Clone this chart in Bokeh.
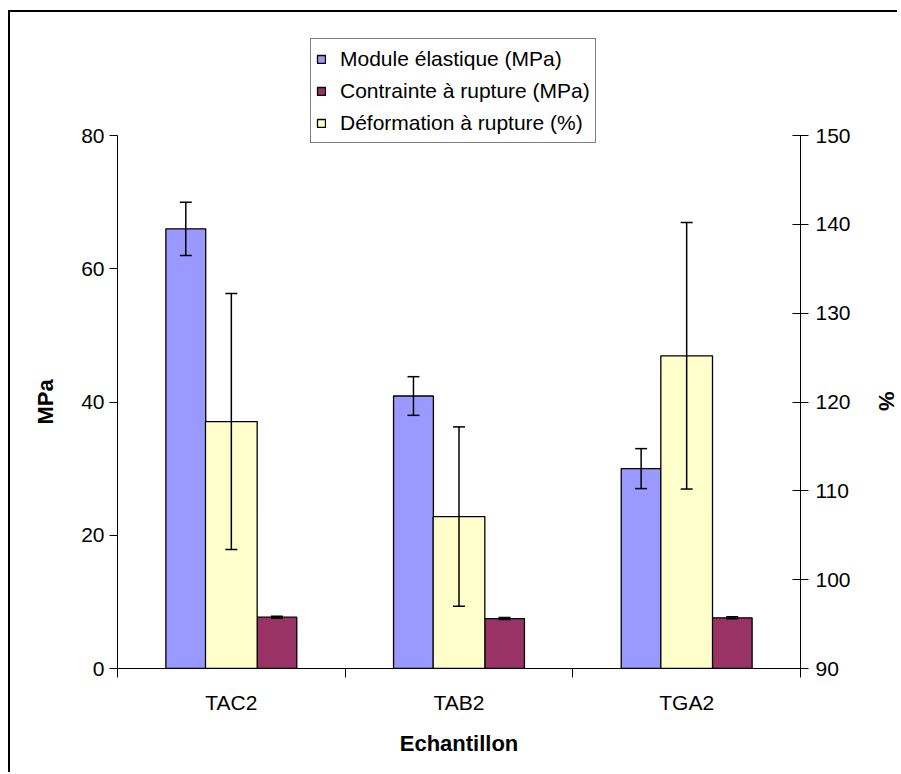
from bokeh.plotting import figure
from bokeh.models import (Range1d, LinearAxis, FixedTicker, Legend, LegendItem,
                          ColumnDataSource, Title)
from bokeh.embed import file_html
from bokeh.resources import INLINE

# ---------------- data ----------------
categories = ["TAC2", "TAB2", "TGA2"]
module = [66.0, 40.9, 30.0]          # MPa
module_err = [4.0, 2.9, 3.0]
contrainte = [7.7, 7.5, 7.6]         # MPa
contrainte_err = [0.15, 0.15, 0.15]
deformation = [117.8, 107.1, 125.2]  # %
deformation_err = [14.4, 10.1, 15.0]
left_ticks = [0, 20, 40, 60, 80]
right_ticks = [90, 100, 110, 120, 130, 140, 150]

FONT = "Liberation Sans"
W, H = 889, 762
TOP_BORDER = 18          # frame extends above the axes to host the legend
AXIS_PX = 533            # pixel height of the 0..80 axis
FRAME_PX = AXIS_PX + (123 - TOP_BORDER)
L0, L1 = left_ticks[0], left_ticks[-1]
R0, R1 = right_ticks[0], right_ticks[-1]
left_max = L0 + (L1 - L0) * FRAME_PX / AXIS_PX
right_max = R0 + (R1 - R0) * FRAME_PX / AXIS_PX

p = figure(width=W, height=H, output_backend="svg", toolbar_location=None,
           x_range=Range1d(0, len(categories)), y_range=Range1d(L0, left_max),
           min_border_left=107, min_border_right=96, min_border_top=TOP_BORDER,
           min_border_bottom=106)
p.styles = {"border-left": "2px solid black", "border-top": "2px solid black",
            "margin-left": "8px", "margin-top": "10px"}
p.extra_y_ranges = {"pct": Range1d(R0, right_max)}
p.xgrid.visible = False
p.ygrid.visible = False
p.outline_line_color = None
p.background_fill_color = "white"
p.border_fill_color = "white"

centers = [i + 0.5 for i in range(len(categories))]
off = 0.2
src = ColumnDataSource(dict(
    xb=[c - off for c in centers], xm=[c + off for c in centers], xy=centers,
    mod=module, con=contrainte, dfm=deformation,
    mod_lo=[v - e for v, e in zip(module, module_err)],
    mod_hi=[v + e for v, e in zip(module, module_err)],
    con_lo=[v - e for v, e in zip(contrainte, contrainte_err)],
    con_hi=[v + e for v, e in zip(contrainte, contrainte_err)],
    dfm_lo=[v - e for v, e in zip(deformation, deformation_err)],
    dfm_hi=[v + e for v, e in zip(deformation, deformation_err)],
))

cap = 6.0 / 228.7
LW = 1.3

def errbars(xcol, lo, hi, **kw):
    xs = src.data[xcol]
    p.segment(x0=xs, x1=xs, y0=src.data[lo], y1=src.data[hi],
              line_color="black", line_width=1.5, **kw)
    for col in (lo, hi):
        p.segment(x0=[x - cap for x in xs], x1=[x + cap for x in xs],
                  y0=src.data[col], y1=src.data[col],
                  line_color="black", line_width=1.5, **kw)

r_mod = p.vbar(x="xb", top="mod", bottom=0, width=0.175, source=src,
               fill_color="#9999FF", line_color="black", line_width=LW)
errbars("xb", "mod_lo", "mod_hi")
r_con = p.vbar(x="xm", top="con", bottom=0, width=0.175, source=src,
               fill_color="#993366", line_color="black", line_width=LW)
errbars("xm", "con_lo", "con_hi")
r_dfm = p.vbar(x="xy", top="dfm", bottom=R0, width=0.227, source=src,
               fill_color="#FFFFCC", line_color="black", line_width=LW,
               y_range_name="pct")
errbars("xy", "dfm_lo", "dfm_hi", y_range_name="pct")

# ---------------- axes ----------------
xa = p.xaxis[0]
xa.ticker = FixedTicker(ticks=centers, minor_ticks=list(range(len(categories) + 1)))
xa.major_label_overrides = {c: name for c, name in zip(centers, categories)}
xa.major_tick_out = 0
xa.major_tick_in = 0
xa.minor_tick_out = 9
xa.minor_tick_in = 0
xa.minor_tick_line_color = "black"
xa.axis_line_color = "black"
xa.major_label_standoff = 13
xa.major_label_text_font = FONT
xa.major_label_text_font_size = "21px"
xa.major_label_text_color = "black"
xa.axis_label = "Echantillon"
xa.axis_label_text_font = FONT
xa.axis_label_text_font_size = "22px"
xa.axis_label_text_font_style = "bold"
xa.axis_label_text_color = "black"
xa.axis_label_standoff = 14

ya = p.yaxis[0]
ya.ticker = FixedTicker(ticks=left_ticks)
ya.bounds = (L0, L1)
ya.minor_tick_line_color = None
ya.major_tick_out = 8
ya.major_tick_in = 0
ya.axis_line_color = "black"
ya.major_tick_line_color = "black"
ya.major_label_standoff = 5
ya.major_label_text_font = FONT
ya.major_label_text_font_size = "21px"
ya.major_label_text_color = "black"

ra = LinearAxis(y_range_name="pct", ticker=FixedTicker(ticks=right_ticks),
                bounds=(R0, R1))
ra.minor_tick_line_color = None
ra.major_tick_out = 8
ra.major_tick_in = 8
ra.axis_line_color = "black"
ra.major_tick_line_color = "black"
ra.major_label_standoff = 7
ra.major_label_text_font = FONT
ra.major_label_text_font_size = "21px"
ra.major_label_text_color = "black"
# blank spacer label: widens the axis panel so the "%" title sits further out
ra.axis_label = " "
ra.axis_label_text_font_size = "1px"
ra.axis_label_standoff = 15
p.add_layout(ra, "right")

# axis titles, centred on the 0..80 / 90..150 axis span (not on the taller frame)
p.add_layout(Title(text="MPa", align="left", vertical_align="middle",
                   offset=244, standoff=39, text_font=FONT,
                   text_font_size="22px", text_font_style="bold",
                   text_color="black"), "left")
p.add_layout(Title(text="%", align="left", vertical_align="middle",
                   offset=361, standoff=0, text_font=FONT,
                   text_font_size="22px", text_font_style="bold",
                   text_color="black"), "right")

# ---------------- legend ----------------
legend = Legend(items=[
    LegendItem(label="Module élastique (MPa)", renderers=[r_mod]),
    LegendItem(label="Contrainte à rupture (MPa)", renderers=[r_con]),
    LegendItem(label="Déformation à rupture (%)", renderers=[r_dfm]),
], location=(193, 525), orientation="vertical")
legend.label_text_font = FONT
legend.label_text_font_size = "21px"
legend.label_text_color = "black"
legend.glyph_width = 10
legend.glyph_height = 10
legend.label_standoff = 14
legend.label_height = 29
legend.spacing = 3
legend.padding = 5
legend.margin = 0
legend.border_line_color = "black"
legend.border_line_width = 1
legend.background_fill_color = "white"
legend.background_fill_alpha = 1
p.add_layout(legend, "center")

open("out.html", "w").write(file_html(p, INLINE))
